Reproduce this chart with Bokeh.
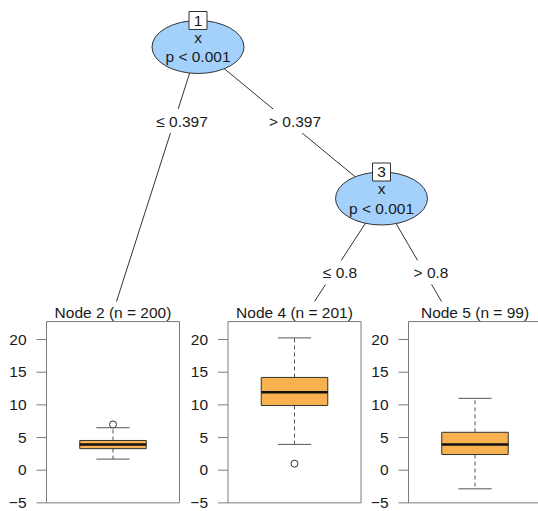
from bokeh.plotting import figure
from bokeh.models import Range1d
from bokeh.embed import file_html
from bokeh.resources import INLINE
from bokeh.core.properties import value

# ---------------- data ----------------
inner_ids = ["1", "3"]
inner_vars = ["x", "x"]
inner_pvals = ["p < 0.001", "p < 0.001"]
edge_labels = ["\u2264 0.397", "> 0.397", "\u2264 0.8", "> 0.8"]
terminal_titles = ["Node 2 (n = 200)", "Node 4 (n = 201)", "Node 5 (n = 99)"]

# boxplot statistics of the response in each terminal node
whisker_low = [1.7, 3.95, -2.85]
box_q1 = [3.3, 9.9, 2.4]
box_median = [3.95, 11.95, 3.95]
box_q3 = [4.55, 14.2, 5.8]
whisker_high = [6.5, 20.25, 11.0]
outlier_node = [0, 1]
outlier_value = [7.0, 1.0]

y_ticks = [-5, 0, 5, 10, 15, 20]
y_limits = (-5.0, 22.75)

# ---------------- layout (reference pixel space) ----------------
FONT = value("Liberation Sans")
FS = "15.5px"
TXT = "#1a1a1a"
LINE = "#333333"
FRAME = "#7a7a7a"
NODE_FILL = "#a3d1fc"
BOX_FILL = "#f7b24f"

W, H = 538, 511
X0, X1 = 0, 538
Y0, Y1 = 2, 513
Y_AT_ZERO = 471.7      # pixel row of value 0
PX_PER_UNIT = 6.533

p = figure(width=W, height=H, x_range=Range1d(X0, X1), y_range=Range1d(Y1, Y0),
           output_backend="svg", toolbar_location=None, min_border=0,
           x_axis_type=None, y_axis_type=None)
p.grid.visible = False
p.outline_line_color = None
p.background_fill_color = "white"
p.extra_y_ranges = {"val": Range1d((Y_AT_ZERO - Y1) / PX_PER_UNIT,
                                   (Y_AT_ZERO - Y0) / PX_PER_UNIT)}

# node positions
inner_x = [197.5, 381.0]
inner_y = [48.5, 200.0]
ell_w, ell_h = 92, 53
term_end_x = [116.0, 314.0, 441.0]
term_end_y = 303.0
panel_left = [46.0, 227.5, 408.0]
panel_w = 133.0
panel_c = [l + panel_w / 2 for l in panel_left]

# edges: parent -> child
edge_x0 = [inner_x[0], inner_x[0], inner_x[1], inner_x[1]]
edge_y0 = [inner_y[0], inner_y[0], inner_y[1], inner_y[1]]
edge_x1 = [term_end_x[0], inner_x[1], term_end_x[1], term_end_x[2]]
edge_y1 = [term_end_y, inner_y[1], term_end_y, term_end_y]
p.segment(edge_x0, edge_y0, edge_x1, edge_y1, line_color=LINE, line_width=1)

# edge labels
lab_x = [181.5, 294.5, 339.5, 430.5]
lab_y = [122.5, 122.5, 274.0, 274.0]
lab_w = [58, 58, 40, 40]
p.rect(lab_x, lab_y, width=lab_w, height=24, fill_color="white", line_color=None)
p.text(lab_x, lab_y, text=edge_labels, text_font=FONT, text_font_size=FS,
       text_align="center", text_baseline="middle", text_color=TXT)

# inner nodes
p.ellipse(inner_x, inner_y, width=ell_w, height=ell_h, fill_color=NODE_FILL,
          line_color=LINE, line_width=1)
p.text(inner_x, [y - 10 for y in inner_y], text=inner_vars, text_font=FONT,
       text_font_size=FS, text_align="center", text_baseline="middle", text_color=TXT)
p.text(inner_x, [y + 9.5 for y in inner_y], text=inner_pvals, text_font=FONT,
       text_font_size=FS, text_align="center", text_baseline="middle", text_color=TXT)
id_y = [y - ell_h / 2 for y in inner_y]
p.rect(inner_x, id_y, width=18, height=18, fill_color="white", line_color=LINE)
p.text(inner_x, id_y, text=inner_ids, text_font=FONT, text_font_size=FS,
       text_align="center", text_baseline="middle", text_color=TXT)

# terminal panels
p.text(panel_c, [322.0] * 3, text=terminal_titles, text_font=FONT, text_font_size=FS,
       text_align="center", text_baseline="bottom", text_color=TXT)
p.quad(left=panel_left, right=[l + panel_w for l in panel_left],
       bottom=[y_limits[0]] * 3, top=[y_limits[1]] * 3, y_range_name="val",
       fill_color=None, line_color=FRAME, line_width=1)

for l in panel_left:
    p.segment([l - 10] * len(y_ticks), y_ticks, [l] * len(y_ticks), y_ticks,
              y_range_name="val", line_color=FRAME, line_width=1)
    p.text([l - 20] * len(y_ticks), y_ticks,
           text=[str(t) if t >= 0 else "\u2212" + str(-t) for t in y_ticks],
           y_range_name="val", text_font=FONT, text_font_size=FS,
           text_align="right", text_baseline="middle", text_color=TXT)

half_box = panel_w / 4
half_cap = panel_w / 8
# whiskers (dashed) and caps
p.segment(panel_c, box_q3, panel_c, whisker_high, y_range_name="val",
          line_color="#555555", line_dash="4 3", line_width=1)
p.segment(panel_c, box_q1, panel_c, whisker_low, y_range_name="val",
          line_color="#555555", line_dash="4 3", line_width=1)
p.segment([c - half_cap for c in panel_c], whisker_high, [c + half_cap for c in panel_c],
          whisker_high, y_range_name="val", line_color="#555555", line_width=1)
p.segment([c - half_cap for c in panel_c], whisker_low, [c + half_cap for c in panel_c],
          whisker_low, y_range_name="val", line_color="#555555", line_width=1)
# boxes
p.quad(left=[c - half_box for c in panel_c], right=[c + half_box for c in panel_c],
       bottom=box_q1, top=box_q3, y_range_name="val", fill_color=BOX_FILL,
       line_color=LINE, line_width=1)
p.segment([c - half_box for c in panel_c], box_median, [c + half_box for c in panel_c],
          box_median, y_range_name="val", line_color="#111111", line_width=2.5)
# outliers
p.scatter([panel_c[i] for i in outlier_node], outlier_value, y_range_name="val",
          marker="circle", size=7, fill_color="white", line_color=LINE, line_width=1)

open("out.html", "w").write(file_html(p, INLINE))
